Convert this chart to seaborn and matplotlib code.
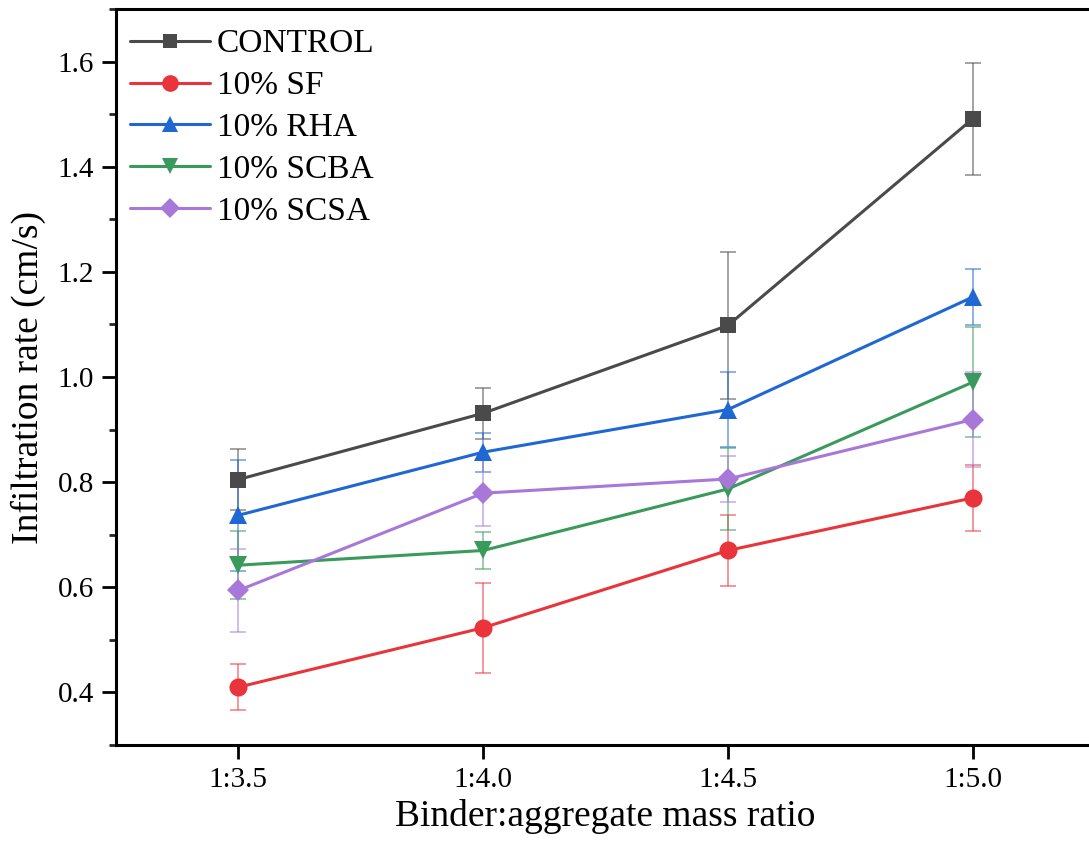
import numpy as np
import pandas as pd
import matplotlib
matplotlib.use("Agg")
import matplotlib.pyplot as plt
import seaborn as sns
from matplotlib.ticker import MultipleLocator

ratios = ["1:3.5", "1:4.0", "1:4.5", "1:5.0"]
series = ["CONTROL", "10% SF", "10% RHA", "10% SCBA", "10% SCSA"]
control = [0.805, 0.931, 1.098, 1.491]
control_err = [0.058, 0.049, 0.139, 0.107]
sf = [0.410, 0.523, 0.670, 0.770]
sf_err = [0.044, 0.086, 0.067, 0.062]
rha = [0.737, 0.857, 0.938, 1.152]
rha_err = [0.106, 0.037, 0.072, 0.053]
scba = [0.642, 0.670, 0.787, 0.990]
scba_err = [0.065, 0.035, 0.078, 0.105]
scsa = [0.594, 0.779, 0.806, 0.919]
scsa_err = [0.079, 0.063, 0.044, 0.090]

values = [control, sf, rha, scba, scsa]
errors = [control_err, sf_err, rha_err, scba_err, scsa_err]
colors = ["#4a4a4a", "#e8343a", "#1f67d2", "#3a9a5c", "#a878d8"]
markers = ["s", "o", "^", "v", "D"]
msizes = [11, 13, 13, 13, 11]

rows = []
for name, vals in zip(series, values):
    for r, v in zip(ratios, vals):
        rows.append({"ratio": r, "rate": v, "series": name})
df = pd.DataFrame(rows)

sns.set_style("ticks")
plt.rcParams["font.family"] = ["Liberation Serif", "DejaVu Serif"]
plt.rcParams["text.color"] = "black"
plt.rcParams["axes.labelcolor"] = "black"

fig = plt.figure(figsize=(10.89, 8.41), dpi=100)
W, H = 1089, 841
ax = fig.add_axes([116 / W, 1 - 745 / H, (1095 - 116) / W, (745 - 9) / H])

for name, vals, errs, c in zip(series, values, errors, colors):
    ax.errorbar(ratios, vals, yerr=errs, fmt="none", ecolor=c, alpha=0.55,
                elinewidth=1.3, capsize=5.5, capthick=1.3, zorder=1)

for name, c, m, ms in zip(series, colors, markers, msizes):
    sub = df[df["series"] == name]
    sns.lineplot(data=sub, x="ratio", y="rate", ax=ax, color=c, marker=m,
                 markersize=ms, markeredgewidth=0, linewidth=2.2, label=name,
                 zorder=3, sort=False)

ax.set_xlim(-0.5, 3.5)
ax.set_ylim(0.3, 1.7)
ax.yaxis.set_major_locator(MultipleLocator(0.2))
ax.yaxis.set_minor_locator(MultipleLocator(0.1))
ax.set_yticks([0.4, 0.6, 0.8, 1.0, 1.2, 1.4, 1.6])
ax.set_yticklabels(["0.4", "0.6", "0.8", "1.0", "1.2", "1.4", "1.6"])

for s in ["left", "bottom", "top"]:
    ax.spines[s].set_linewidth(2.2)
    ax.spines[s].set_color("black")
ax.spines["right"].set_visible(False)

ax.tick_params(axis="both", which="major", direction="out", length=10, width=2,
               labelsize=21, pad=6, colors="black")
ax.tick_params(axis="y", which="minor", direction="out", length=5, width=2)
ax.tick_params(axis="x", which="minor", length=0)

ax.set_xlabel("Binder:aggregate mass ratio", fontsize=27, labelpad=4, color="black")
ax.set_ylabel("Infiltration rate (cm/s)", fontsize=27, labelpad=8, color="black")

leg = ax.legend(loc="upper left", frameon=False, fontsize=24,
                handlelength=2.4, handletextpad=0.19, labelspacing=0.34,
                borderaxespad=0.0, bbox_to_anchor=(0.001, 0.991))
for h, ms in zip(leg.legend_handles, msizes):
    h.set_markersize(ms - 1)
for t in leg.get_texts():
    t.set_color("black")

fig.savefig("out.png", dpi=100)
